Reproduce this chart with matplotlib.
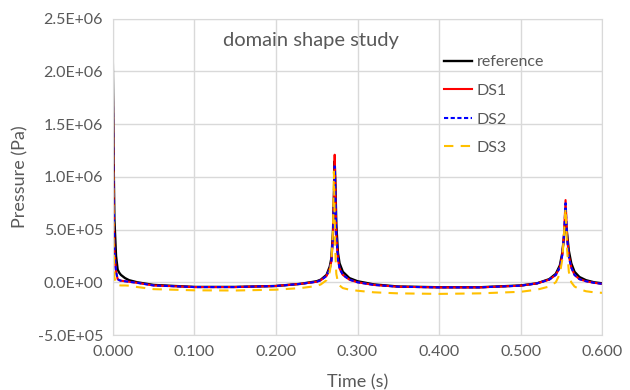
import matplotlib
matplotlib.use("Agg")
import matplotlib.pyplot as plt
from matplotlib.ticker import FuncFormatter

plt.rcParams['font.family'] = ['Lato', 'DejaVu Sans']

# time samples (s), denser around the pressure peaks
time = [0.000, 0.001, 0.002, 0.004, 0.006, 0.008, 0.010, 0.015, 0.020, 0.030,
        0.050, 0.100, 0.150, 0.200, 0.230, 0.250, 0.255, 0.262, 0.266, 0.268,
        0.270, 0.271, 0.272, 0.273, 0.274, 0.276, 0.278, 0.282, 0.290, 0.300,
        0.320, 0.350, 0.400, 0.450, 0.500, 0.520, 0.535, 0.543, 0.548, 0.551,
        0.553, 0.555, 0.557, 0.559, 0.562, 0.566, 0.572, 0.580, 0.590, 0.600]

reference = [2.15e6, 1.20e6, 6.0e5, 2.5e5, 1.2e5, 9.0e4, 7.0e4, 4.0e4, 2.0e4, 0.0,
             -2.5e4, -4.4e4, -4.4e4, -3.5e4, -1.5e4, 1.0e4, 2.5e4, 7.0e4, 1.5e5, 2.3e5,
             5.0e5, 8.0e5, 1.15e6, 9.0e5, 5.5e5, 2.8e5, 1.8e5, 1.0e5, 4.0e4, 1.0e4,
             -2.0e4, -4.0e4, -4.7e4, -4.7e4, -3.0e4, -1.0e4, 3.0e4, 8.0e4, 1.6e5, 2.8e5,
             4.3e5, 6.0e5, 4.5e5, 3.0e5, 1.8e5, 1.0e5, 5.0e4, 2.0e4, 0.0, -1.0e4]

ds1 = [2.10e6, 8.0e5, 3.0e5, 1.0e5, 3.0e4, 2.0e4, 1.5e4, 1.0e4, 5.0e3, -5.0e3,
       -3.0e4, -4.5e4, -4.5e4, -3.5e4, -1.5e4, 5.0e3, 2.0e4, 6.0e4, 1.3e5, 2.0e5,
       4.5e5, 8.0e5, 1.21e6, 8.5e5, 4.5e5, 2.2e5, 1.3e5, 7.0e4, 2.5e4, 0.0,
       -2.5e4, -4.2e4, -4.8e4, -4.8e4, -3.2e4, -1.0e4, 2.5e4, 7.0e4, 1.4e5, 2.6e5,
       4.5e5, 7.8e5, 4.2e5, 2.5e5, 1.4e5, 7.0e4, 3.0e4, 1.0e4, -5.0e3, -1.5e4]

ds2 = [2.05e6, 8.0e5, 3.0e5, 1.0e5, 3.0e4, 2.0e4, 1.5e4, 1.0e4, 5.0e3, -5.0e3,
       -3.0e4, -4.5e4, -4.5e4, -3.5e4, -1.5e4, 5.0e3, 2.0e4, 6.0e4, 1.3e5, 2.0e5,
       4.5e5, 7.5e5, 1.10e6, 8.2e5, 4.4e5, 2.2e5, 1.3e5, 7.0e4, 2.5e4, 0.0,
       -2.5e4, -4.2e4, -4.8e4, -4.8e4, -3.2e4, -1.0e4, 2.5e4, 7.0e4, 1.4e5, 2.6e5,
       4.4e5, 7.5e5, 4.1e5, 2.4e5, 1.4e5, 7.0e4, 3.0e4, 1.0e4, -5.0e3, -1.5e4]

ds3 = [2.00e6, 4.0e5, 5.0e4, -2.0e4, -2.5e4, -2.8e4, -3.0e4, -3.0e4, -3.2e4, -4.5e4,
       -6.5e4, -7.6e4, -7.8e4, -7.0e4, -5.5e4, -3.5e4, -2.0e4, 2.0e4, 1.0e5, 2.0e5,
       5.0e5, 1.05e6, 6.0e5, 2.5e5, 8.0e4, 0.0, -3.0e4, -5.5e4, -7.0e4, -8.0e4,
       -9.5e4, -1.05e5, -1.1e5, -1.05e5, -9.0e4, -7.0e4, -4.0e4, 0.0, 8.0e4, 2.2e5,
       4.5e5, 7.0e5, 3.0e5, 1.0e5, 0.0, -4.0e4, -6.5e4, -8.5e4, -9.5e4, -1.0e5]

xticks = [0.0, 0.1, 0.2, 0.3, 0.4, 0.5, 0.6]
yticks = [-5e5, 0, 5e5, 1e6, 1.5e6, 2e6, 2.5e6]

text_col = "#595959"
grid_col = "#d9d9d9"

fig = plt.figure(figsize=(6.3, 3.9), dpi=100)
ax = fig.add_axes([0.179, 0.141, 0.777, 0.811])

ax.plot(time, reference, color="black", lw=1.7, label="reference")
ax.plot(time, ds1, color="red", lw=1.5, label="DS1")
ax.plot(time, ds2, color="blue", lw=1.5, ls=(0, (2.0, 1.2)), label="DS2")
ax.plot(time, ds3, color="#ffc000", lw=1.5, ls=(0, (4.5, 3.5)), label="DS3")

ax.set_xlim(0, 0.6)
ax.set_ylim(-5e5, 2.5e6)
ax.set_xticks(xticks)
ax.set_yticks(yticks)
ax.xaxis.set_major_formatter(FuncFormatter(lambda v, p: f"{v:.3f}"))

def sci(v, p):
    s = f"{v:.1E}"
    mant, exp = s.split("E")
    return f"{mant}E{exp[0]}{int(exp[1:]):02d}"

ax.yaxis.set_major_formatter(FuncFormatter(sci))
ax.tick_params(length=0, labelsize=11.5, colors=text_col, pad=7)
ax.grid(True, color=grid_col, lw=1)
ax.set_axisbelow(True)
for s in ax.spines.values():
    s.set_color(grid_col)

ax.set_xlabel("Time (s)", fontsize=13, color=text_col, labelpad=11)
ax.set_ylabel("Pressure (Pa)", fontsize=13, color=text_col, labelpad=7)
ax.text(0.405, 0.93, "domain shape study", transform=ax.transAxes,
        ha="center", va="center", fontsize=14.5, color=text_col)

leg = ax.legend(loc="upper left", bbox_to_anchor=(0.647, 0.93), frameon=False,
                fontsize=11.5, handlelength=1.75, labelspacing=0.9, handletextpad=0.3)
for t in leg.get_texts():
    t.set_color(text_col)

fig.savefig("out.png", dpi=100)
